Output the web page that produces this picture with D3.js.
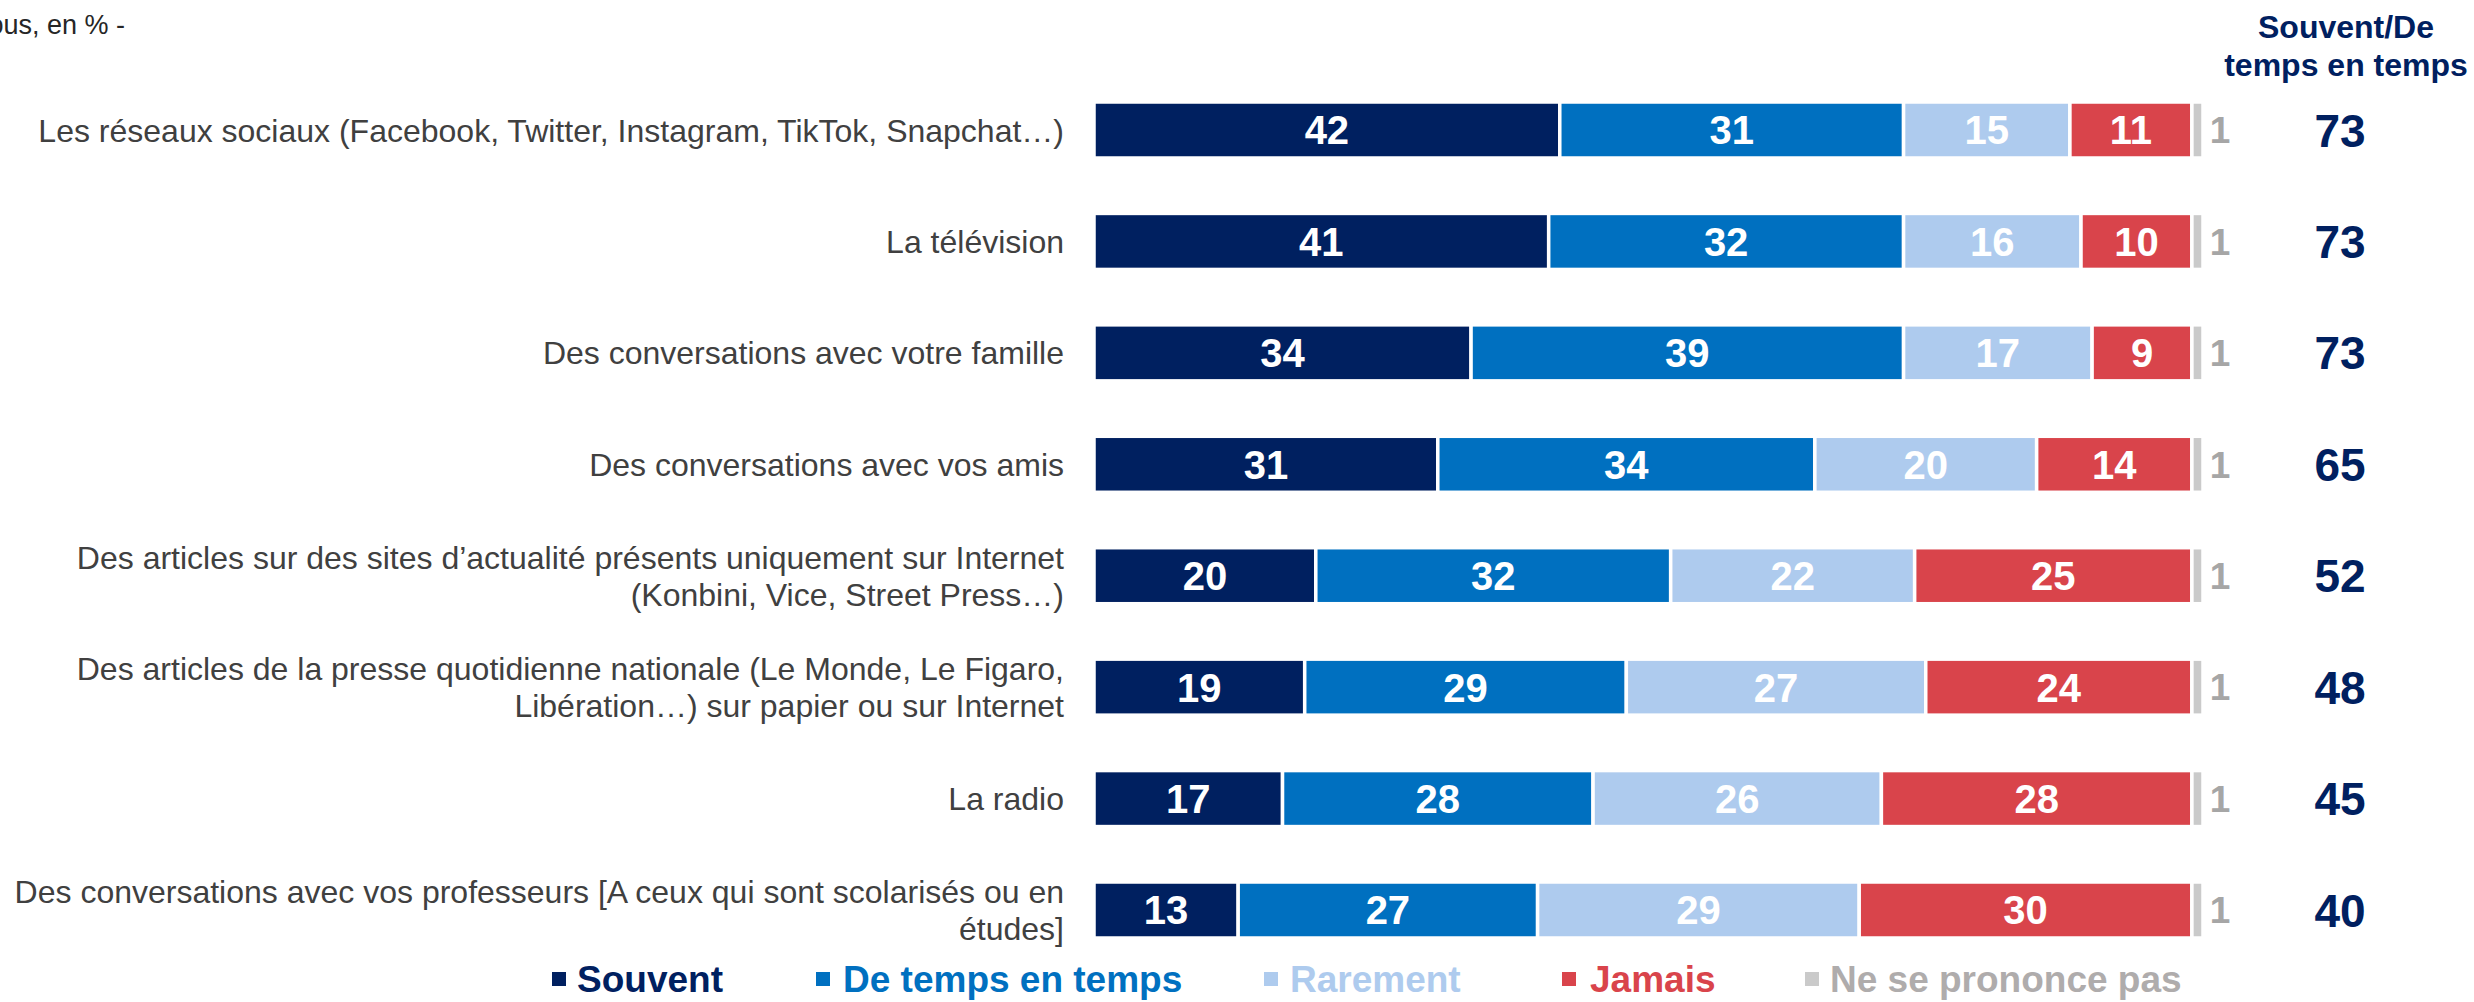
<!DOCTYPE html>
<html>
<head>
<meta charset="utf-8">
<script src="https://cdn.jsdelivr.net/npm/d3@7"></script>
<style>
  html, body { margin: 0; padding: 0; background: #fff; }
  svg { display: block; font-family: "Liberation Sans", Arial, sans-serif; }
</style>
</head>
<body>
<svg id="chart" width="2474" height="1002"></svg>
<script>
// ---- Data ----
const categories = [
  ["Les réseaux sociaux (Facebook, Twitter, Instagram, TikTok, Snapchat…)"],
  ["La télévision"],
  ["Des conversations avec votre famille"],
  ["Des conversations avec vos amis"],
  ["Des articles sur des sites d’actualité présents uniquement sur Internet", "(Konbini, Vice, Street Press…)"],
  ["Des articles de la presse quotidienne nationale (Le Monde, Le Figaro,", "Libération…) sur papier ou sur Internet"],
  ["La radio"],
  ["Des conversations avec vos professeurs [A ceux qui sont scolarisés ou en", "études]"]
];
const souvent      = [42, 41, 34, 31, 20, 19, 17, 13];
const deTemps      = [31, 32, 39, 34, 32, 29, 28, 27];
const rarement     = [15, 16, 17, 20, 22, 27, 26, 29];
const jamais       = [11, 10,  9, 14, 25, 24, 28, 30];
const nsp          = [ 1,  1,  1,  1,  1,  1,  1,  1];
const totalSouventDeTemps = [73, 73, 73, 65, 52, 48, 45, 40];
const seriesNames = ["Souvent", "De temps en temps", "Rarement", "Jamais", "Ne se prononce pas"];
const headerLines = ["Souvent/De", "temps en temps"];
const subtitle = "- A tous, en % -";

// ---- Styles ----
const keys = ["souvent", "deTemps", "rarement", "jamais", "nsp"];
const fillColors = ["#002060", "#0070C0", "#AECBEE", "#D9444B", "#CACACA"];
const legendTextColors = ["#002060", "#0070C0", "#AECBEE", "#D9444B", "#AFACAC"];

const rows = categories.map((c, i) => ({
  idx: i,
  label: c,
  souvent: souvent[i], deTemps: deTemps[i], rarement: rarement[i],
  jamais: jamais[i], nsp: nsp[i], total: totalSouventDeTemps[i]
}));

const svg = d3.select("#chart");

const x = d3.scaleLinear().domain([0, 100]).range([1094, 2203]);
const y = d3.scalePoint().domain(d3.range(rows.length)).range([130, 910]);
const barH = 56;

const stacked = d3.stack().keys(keys)(rows);

// subtitle (partially cut on the left)
svg.append("text")
  .attr("x", 125).attr("y", 34)
  .attr("text-anchor", "end")
  .attr("font-size", 27)
  .attr("fill", "#262626")
  .text(subtitle);

// header
svg.append("g").selectAll("text").data(headerLines).join("text")
  .attr("x", 2346)
  .attr("y", (d, i) => 38 + i * 38)
  .attr("text-anchor", "middle")
  .attr("font-size", 32)
  .attr("font-weight", "bold")
  .attr("fill", "#002060")
  .text(d => d);

// bars
const layers = svg.append("g").selectAll("g").data(stacked).join("g")
  .attr("fill", (d, i) => fillColors[i]);

layers.selectAll("rect").data(d => d).join("rect")
  .attr("x", d => x(d[0]))
  .attr("y", (d, i) => y(i) - barH / 2)
  .attr("width", d => Math.max(0, x(d[1]) - x(d[0])))
  .attr("height", barH)
  .attr("stroke", "#fff")
  .attr("stroke-width", 3.5);

// value labels inside bars (first four series)
stacked.slice(0, 4).forEach((layer, li) => {
  svg.append("g").selectAll("text").data(layer).join("text")
    .attr("x", d => (x(d[0]) + x(d[1])) / 2)
    .attr("y", (d, i) => y(i))
    .attr("dy", "0.36em")
    .attr("text-anchor", "middle")
    .attr("font-size", 40)
    .attr("font-weight", "bold")
    .attr("fill", "#fff")
    .text(d => d.data[keys[li]]);
});

// NSP labels (outside, grey)
svg.append("g").selectAll("text").data(stacked[4]).join("text")
  .attr("x", 2220)
  .attr("y", (d, i) => y(i))
  .attr("dy", "0.36em")
  .attr("text-anchor", "middle")
  .attr("font-size", 37)
  .attr("font-weight", "bold")
  .attr("fill", "#A6A6A6")
  .text(d => d.data.nsp);

// totals
svg.append("g").selectAll("text").data(rows).join("text")
  .attr("x", 2340)
  .attr("y", d => y(d.idx))
  .attr("dy", "0.36em")
  .attr("text-anchor", "middle")
  .attr("font-size", 46)
  .attr("font-weight", "bold")
  .attr("fill", "#002060")
  .text(d => d.total);

// category labels
const lab = svg.append("g").selectAll("text").data(rows).join("text")
  .attr("text-anchor", "end")
  .attr("font-size", 32)
  .attr("fill", "#404040");
lab.each(function(d) {
  const n = d.label.length;
  const lh = 37;
  d3.select(this).selectAll("tspan").data(d.label).join("tspan")
    .attr("x", 1064)
    .attr("y", (t, j) => y(d.idx) + (j - (n - 1) / 2) * lh)
    .attr("dy", "0.36em")
    .text(t => t);
});

// legend
const legendSquares = [552, 816, 1264, 1562, 1805];
const legendTextX = [577, 843, 1290, 1590, 1830];
const legendY = 979;
const lg = svg.append("g").selectAll("g").data(seriesNames).join("g");
lg.append("rect")
  .attr("x", (d, i) => legendSquares[i])
  .attr("y", legendY - 7)
  .attr("width", 14).attr("height", 14)
  .attr("fill", (d, i) => fillColors[i]);
lg.append("text")
  .attr("x", (d, i) => legendTextX[i])
  .attr("y", legendY)
  .attr("dy", "0.36em")
  .attr("font-size", 37)
  .attr("font-weight", "bold")
  .attr("fill", (d, i) => legendTextColors[i])
  .text(d => d);
</script>
</body>
</html>
